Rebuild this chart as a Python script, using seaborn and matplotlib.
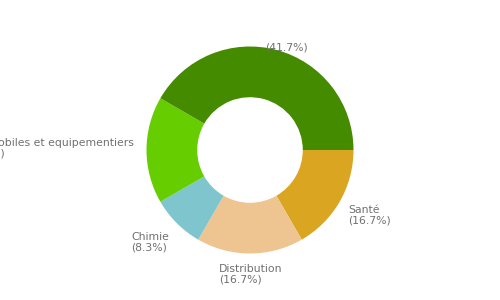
import matplotlib
matplotlib.use("Agg")
import matplotlib.pyplot as plt
import seaborn as sns

# Data (clockwise from 3 o'clock)
categories = ["Santé", "Distribution", "Chimie", "Automobiles et equipementiers", ""]
values = [2, 2, 1, 2, 5]
percent_labels = ["(16.7%)", "(16.7%)", "(8.3%)", "(16.7%)", "(41.7%)"]
colors = ["#DAA520", "#EEC591", "#7EC5CD", "#66CD00", "#458B00"]

# label anchor (top-left) positions in pixels
label_px = [(348, 205), (219, 264), (131, 232), (-38, 138), (265, 42)]

sns.set_theme(style="white")
plt.rcParams['font.family'] = ['DejaVu Sans']

W, H, R = 500, 300, 103.5
fig = plt.figure(figsize=(5, 3), dpi=100)
ax = fig.add_axes([0, 0, 1, 1])
ax.pie(values, colors=colors, startangle=0, counterclock=False, radius=1.0,
       wedgeprops=dict(width=0.49, linewidth=0))
ax.set_xlim(-W / 2 / R, W / 2 / R)
ax.set_ylim(-H / 2 / R, H / 2 / R)
ax.set_aspect('equal')
ax.axis('off')

for cat, pct, (px, py) in zip(categories, percent_labels, label_px):
    txt = f"{cat}\n{pct}" if cat else pct
    ax.text((px - W / 2) / R, (H / 2 - py) / R, txt, ha='left', va='top',
            fontsize=7.8, color='#707070', linespacing=1.1)

fig.savefig("out.png", dpi=100)
